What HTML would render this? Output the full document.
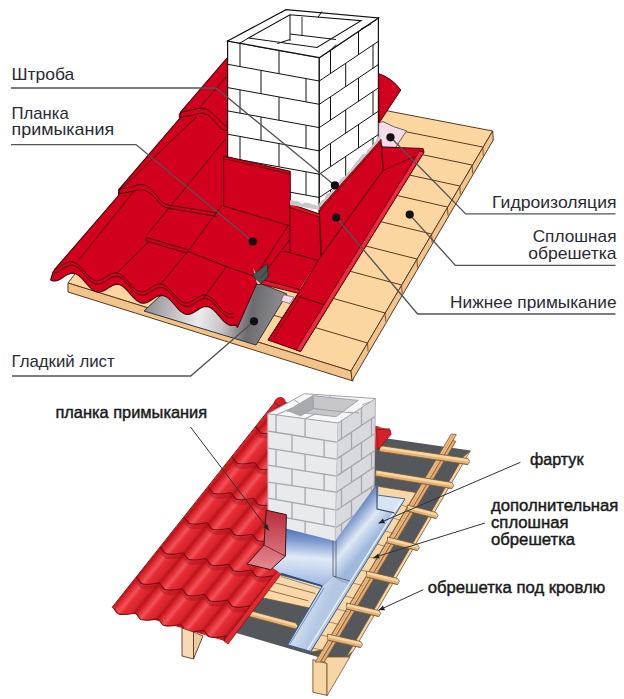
<!DOCTYPE html>
<html><head><meta charset="utf-8"><style>
html,body{margin:0;padding:0;background:#fff;}
svg{display:block;font-family:"Liberation Sans",sans-serif;}
</style></head><body>
<svg width="624" height="699" viewBox="0 0 624 699">
<rect width="624" height="699" fill="#fff"/>
<defs><linearGradient id="gs" gradientUnits="userSpaceOnUse" x1="144" y1="300" x2="290" y2="330"><stop offset="0" stop-color="#8a8a8e"/><stop offset="0.38" stop-color="#ececec"/><stop offset="0.55" stop-color="#c4c4c6"/><stop offset="0.72" stop-color="#6c6c70"/><stop offset="1" stop-color="#9c9ca0"/></linearGradient><linearGradient id="bl" x1="0" y1="0" x2="1" y2="1"><stop offset="0" stop-color="#7f9ac4"/><stop offset="0.5" stop-color="#dfe8f4"/><stop offset="1" stop-color="#a9bedc"/></linearGradient><linearGradient id="tr" x1="0" y1="0" x2="0" y2="1"><stop offset="0" stop-color="#e8242c"/><stop offset="0.6" stop-color="#d41a22"/><stop offset="1" stop-color="#b01018"/></linearGradient><clipPath id="roofclip"><polygon id="rc" points="227.0,58.0 180.5,112.3 180.0,118.0 119.5,188.8 118.5,195.6 57.0,266.7 53.0,272.0 50.6,280.2 53.1,281.0 55.6,280.9 58.1,280.2 60.6,278.9 63.1,277.3 65.6,275.6 68.1,274.3 70.6,273.4 73.1,273.2 75.6,273.7 78.1,275.1 80.6,277.2 83.1,279.8 85.6,282.6 88.1,285.5 90.6,288.1 93.1,290.2 95.6,291.6 98.1,292.2 100.6,292.0 103.1,291.1 105.6,289.7 108.1,288.1 110.6,286.5 113.1,285.2 115.6,284.4 118.1,284.3 120.6,285.1 123.1,286.6 125.6,288.8 128.1,291.4 130.6,294.3 133.1,297.2 135.6,299.7 138.1,301.6 140.6,302.9 143.1,303.3 145.6,303.0 148.1,302.0 150.6,300.5 153.1,298.9 155.6,297.3 158.1,296.1 160.6,295.4 163.1,295.5 165.6,296.4 168.1,298.1 170.6,300.4 173.1,303.1 175.6,306.0 178.1,308.8 180.6,311.3 183.1,313.1 185.6,314.1 188.1,314.4 190.6,313.9 193.1,312.8 195.6,311.3 198.1,309.7 200.6,308.1 203.1,307.0 205.6,306.5 208.1,306.8 210.6,307.8 213.1,309.6 215.6,312.0 218.1,314.8 220.6,317.7 223.1,320.5 225.6,322.8 228.1,324.5 230.6,325.4 233.1,325.5 235.6,324.9 237.5,327.5 257.0,283.0 253.0,268.0 261.0,282.0 298.0,292.0 321.4,255.6 321.0,200.0 227.5,200.0"/></clipPath></defs>
<polygon points="68.0,283.0 351.0,371.0 492.7,131.0 388.0,111.0 300.0,95.0 200.0,110.0" fill="#fcd6a0" stroke="#5a3a20" stroke-width="1" />
<polygon points="68.0,283.0 351.0,371.0 353.0,381.0 68.0,292.0" fill="#f0c48c" stroke="#5a3a20" stroke-width="1" />
<polygon points="351.0,371.0 492.7,131.0 493.3,140.0 352.0,381.0" fill="#f0c48c" stroke="#5a3a20" stroke-width="1" />
<line x1="262.7" y1="103.3" x2="482.7" y2="147.0" stroke="#5a3a20" stroke-width="1"/>
<line x1="482.7" y1="147.0" x2="483.3" y2="155.5" stroke="#5a3a20" stroke-width="0.8"/>
<line x1="252.1" y1="119.4" x2="472.1" y2="165.0" stroke="#5a3a20" stroke-width="1"/>
<line x1="472.1" y1="165.0" x2="472.7" y2="173.5" stroke="#5a3a20" stroke-width="0.8"/>
<line x1="239.8" y1="138.1" x2="459.8" y2="186.0" stroke="#5a3a20" stroke-width="1"/>
<line x1="459.8" y1="186.0" x2="460.4" y2="194.5" stroke="#5a3a20" stroke-width="0.8"/>
<line x1="227.4" y1="156.8" x2="447.4" y2="207.0" stroke="#5a3a20" stroke-width="1"/>
<line x1="447.4" y1="207.0" x2="448.0" y2="215.5" stroke="#5a3a20" stroke-width="0.8"/>
<line x1="211.6" y1="180.8" x2="431.6" y2="234.0" stroke="#5a3a20" stroke-width="1"/>
<line x1="431.6" y1="234.0" x2="432.2" y2="242.5" stroke="#5a3a20" stroke-width="0.8"/>
<line x1="196.9" y1="203.1" x2="416.9" y2="259.0" stroke="#5a3a20" stroke-width="1"/>
<line x1="416.9" y1="259.0" x2="417.5" y2="267.5" stroke="#5a3a20" stroke-width="0.8"/>
<line x1="181.6" y1="226.2" x2="401.6" y2="285.0" stroke="#5a3a20" stroke-width="1"/>
<line x1="401.6" y1="285.0" x2="402.2" y2="293.5" stroke="#5a3a20" stroke-width="0.8"/>
<line x1="165.1" y1="251.2" x2="385.1" y2="313.0" stroke="#5a3a20" stroke-width="1"/>
<line x1="385.1" y1="313.0" x2="385.7" y2="321.5" stroke="#5a3a20" stroke-width="0.8"/>
<line x1="147.5" y1="277.9" x2="367.5" y2="343.0" stroke="#5a3a20" stroke-width="1"/>
<line x1="367.5" y1="343.0" x2="368.1" y2="351.5" stroke="#5a3a20" stroke-width="0.8"/>
<polygon points="144.0,311.0 160.0,296.0 262.0,284.0 287.0,294.0 256.0,345.0" fill="url(#gs)" stroke="#333" stroke-width="1" />
<polygon points="283.5,294.8 294.0,297.0 290.0,303.5 281.0,301.0" fill="#f6dbe8" stroke="#444" stroke-width="0.6" />
<polygon points="227.0,58.0 180.5,112.3 180.0,118.0 119.5,188.8 118.5,195.6 57.0,266.7 53.0,272.0 50.6,280.2 53.1,281.0 55.6,280.9 58.1,280.2 60.6,278.9 63.1,277.3 65.6,275.6 68.1,274.3 70.6,273.4 73.1,273.2 75.6,273.7 78.1,275.1 80.6,277.2 83.1,279.8 85.6,282.6 88.1,285.5 90.6,288.1 93.1,290.2 95.6,291.6 98.1,292.2 100.6,292.0 103.1,291.1 105.6,289.7 108.1,288.1 110.6,286.5 113.1,285.2 115.6,284.4 118.1,284.3 120.6,285.1 123.1,286.6 125.6,288.8 128.1,291.4 130.6,294.3 133.1,297.2 135.6,299.7 138.1,301.6 140.6,302.9 143.1,303.3 145.6,303.0 148.1,302.0 150.6,300.5 153.1,298.9 155.6,297.3 158.1,296.1 160.6,295.4 163.1,295.5 165.6,296.4 168.1,298.1 170.6,300.4 173.1,303.1 175.6,306.0 178.1,308.8 180.6,311.3 183.1,313.1 185.6,314.1 188.1,314.4 190.6,313.9 193.1,312.8 195.6,311.3 198.1,309.7 200.6,308.1 203.1,307.0 205.6,306.5 208.1,306.8 210.6,307.8 213.1,309.6 215.6,312.0 218.1,314.8 220.6,317.7 223.1,320.5 225.6,322.8 228.1,324.5 230.6,325.4 233.1,325.5 235.6,324.9 237.5,327.5 257.0,283.0 253.0,268.0 261.0,282.0 298.0,292.0 321.4,255.6 321.0,200.0 227.5,200.0" fill="#d2001e" stroke="none" stroke-width="1" />
<polyline points="227.0,58.0 180.5,112.3 180.0,118.0 119.5,188.8 118.5,195.6 57.0,266.7 53.0,272.0 50.6,280.0" fill="none" stroke="#4a0008" stroke-width="1.1" />
<polyline points="50.6,280.2 53.1,281.0 55.6,280.9 58.1,280.2 60.6,278.9 63.1,277.3 65.6,275.6 68.1,274.3 70.6,273.4 73.1,273.2 75.6,273.7 78.1,275.1 80.6,277.2 83.1,279.8 85.6,282.6 88.1,285.5 90.6,288.1 93.1,290.2 95.6,291.6 98.1,292.2 100.6,292.0 103.1,291.1 105.6,289.7 108.1,288.1 110.6,286.5 113.1,285.2 115.6,284.4 118.1,284.3 120.6,285.1 123.1,286.6 125.6,288.8 128.1,291.4 130.6,294.3 133.1,297.2 135.6,299.7 138.1,301.6 140.6,302.9 143.1,303.3 145.6,303.0 148.1,302.0 150.6,300.5 153.1,298.9 155.6,297.3 158.1,296.1 160.6,295.4 163.1,295.5 165.6,296.4 168.1,298.1 170.6,300.4 173.1,303.1 175.6,306.0 178.1,308.8 180.6,311.3 183.1,313.1 185.6,314.1 188.1,314.4 190.6,313.9 193.1,312.8 195.6,311.3 198.1,309.7 200.6,308.1 203.1,307.0 205.6,306.5 208.1,306.8 210.6,307.8 213.1,309.6 215.6,312.0 218.1,314.8 220.6,317.7 223.1,320.5 225.6,322.8 228.1,324.5 230.6,325.4 233.1,325.5 235.6,324.9 237.5,327.5" fill="none" stroke="#4a0008" stroke-width="1.1" />
<polyline points="237.5,327.5 257.0,283.0" fill="none" stroke="#4a0008" stroke-width="1" />
<polyline points="54.1,269.4 56.6,268.7 59.1,267.4 61.6,265.8 64.1,264.1 66.6,262.8 69.1,261.9 71.6,261.7 74.1,262.2 76.6,263.6 79.1,265.7 81.6,268.3 84.1,271.1 86.6,274.0 89.1,276.6 91.6,278.7 94.1,280.1 96.6,280.7 99.1,280.5 101.6,279.6 104.1,278.2 106.6,276.6 109.1,275.0 111.6,273.7 114.1,272.9 116.6,272.8 119.1,273.6 121.6,275.1 124.1,277.3 126.6,279.9 129.1,282.8 131.6,285.7 134.1,288.2 136.6,290.1 139.1,291.4 141.6,291.8 144.1,291.5 146.6,290.5 149.1,289.0 151.6,287.4 154.1,285.8 156.6,284.6 159.1,283.9 161.6,284.0 164.1,284.9 166.6,286.6 169.1,288.9 171.6,291.6 174.1,294.5 176.6,297.3 179.1,299.8 181.6,301.6 184.1,302.6 186.6,302.9 189.1,302.4 191.6,301.3 194.1,299.8 196.6,298.2 199.1,296.6 201.6,295.5 204.1,295.0 206.6,295.3 209.1,296.3 211.6,298.1 214.1,300.5 216.6,303.3 219.1,306.2 221.6,309.0 224.1,311.3 226.6,313.0 229.1,313.9 231.6,314.0 234.1,313.4" fill="none" stroke="#4a0008" stroke-width="1" />
<polyline points="54.6,272.9 57.1,272.2 59.6,270.9 62.1,269.3 64.6,267.6 67.1,266.3 69.6,265.4 72.1,265.2 74.6,265.7 77.1,267.1 79.6,269.2 82.1,271.8 84.6,274.6 87.1,277.5 89.6,280.1 92.1,282.2 94.6,283.6 97.1,284.2 99.6,284.0 102.1,283.1 104.6,281.7 107.1,280.1 109.6,278.5 112.1,277.2 114.6,276.4 117.1,276.3 119.6,277.1 122.1,278.6 124.6,280.8 127.1,283.4 129.6,286.3 132.1,289.2 134.6,291.7 137.1,293.6 139.6,294.9 142.1,295.3 144.6,295.0 147.1,294.0 149.6,292.5 152.1,290.9 154.6,289.3 157.1,288.1 159.6,287.4 162.1,287.5 164.6,288.4 167.1,290.1 169.6,292.4 172.1,295.1 174.6,298.0 177.1,300.8 179.6,303.3 182.1,305.1 184.6,306.1 187.1,306.4 189.6,305.9 192.1,304.8 194.6,303.3 197.1,301.7 199.6,300.1 202.1,299.0 204.6,298.5 207.1,298.8 209.6,299.8 212.1,301.6 214.6,304.0 217.1,306.8 219.6,309.7 222.1,312.5 224.6,314.8 227.1,316.5 229.6,317.4 232.1,317.5 234.6,316.9" fill="none" stroke="#4a0008" stroke-width="1" />
<polyline points="179.3,113.6 184.0,111.5 190.9,110.2 196.3,108.8 201.8,108.1 207.2,109.5 212.7,113.6 218.1,119.0 223.6,124.5 228.0,126.5" fill="none" stroke="#4a0008" stroke-width="1" />
<polyline points="179.3,117.7 185.4,116.3 193.0,115.2 201.8,112.9 207.5,114.5 214.0,120.4 220.8,128.6 228.0,131.0" fill="none" stroke="#4a0008" stroke-width="1" />
<polyline points="118.7,189.0 128.8,187.9 138.5,184.5 145.2,185.0 150.0,187.9 154.8,192.7 158.7,198.5 163.0,203.0 168.0,205.0 174.0,206.0 200.0,210.0 217.0,213.0" fill="none" stroke="#4a0008" stroke-width="1" />
<polyline points="118.7,193.7 128.8,192.2 136.5,190.3 143.3,189.8 148.0,191.7 153.8,196.5 158.7,202.3 163.0,206.5 169.6,208.5 200.0,213.5 217.0,216.5" fill="none" stroke="#4a0008" stroke-width="1" />
<line x1="179.3" y1="113.6" x2="179.3" y2="117.7" stroke="#4a0008" stroke-width="1"/>
<line x1="118.7" y1="189.0" x2="118.7" y2="193.7" stroke="#4a0008" stroke-width="1"/>
<line x1="226.3" y1="76.8" x2="198.4" y2="108.8" stroke="#4a0008" stroke-width="1"/>
<line x1="197.0" y1="116.3" x2="119.0" y2="191.0" stroke="#4a0008" stroke-width="1"/>
<line x1="225.4" y1="139.2" x2="146.5" y2="235.4" stroke="#4a0008" stroke-width="1"/>
<line x1="149.7" y1="240.6" x2="116.0" y2="274.0" stroke="#4a0008" stroke-width="1"/>
<line x1="134.0" y1="191.2" x2="78.0" y2="261.0" stroke="#4a0008" stroke-width="1"/>
<line x1="222.0" y1="205.1" x2="187.4" y2="252.0" stroke="#4a0008" stroke-width="1"/>
<line x1="187.4" y1="252.0" x2="160.0" y2="285.0" stroke="#4a0008" stroke-width="1"/>
<line x1="226.5" y1="266.7" x2="203.5" y2="298.0" stroke="#4a0008" stroke-width="1"/>
<polyline points="146.3,237.5 186.9,249.5" fill="none" stroke="#4a0008" stroke-width="1" />
<polyline points="146.3,241.0 186.9,253.0" fill="none" stroke="#4a0008" stroke-width="1" />
<line x1="146.3" y1="237.5" x2="146.3" y2="241.0" stroke="#4a0008" stroke-width="1"/>
<polyline points="186.9,251.0 226.5,266.7 256.7,277.0" fill="none" stroke="#4a0008" stroke-width="1" />
<polygon points="227.6,41.0 319.3,57.7 319.3,215.0 227.6,200.0" fill="#fff" stroke="#111" stroke-width="1.2" />
<polygon points="319.3,57.7 378.4,18.0 378.4,150.0 319.3,215.0" fill="#fff" stroke="#111" stroke-width="1.2" />
<polygon points="227.6,41.0 286.0,9.7 378.4,18.0 319.3,57.7" fill="#fff" stroke="#111" stroke-width="1.2" />
<polygon points="248.5,38.0 290.0,14.8 361.0,20.6 317.0,47.5" fill="#fff" stroke="#111" stroke-width="1.1" />
<polyline points="277.2,43.6 290.0,39.5" fill="none" stroke="#111" stroke-width="1" />
<polyline points="290.0,34.0 336.0,39.5" fill="none" stroke="#111" stroke-width="1" />
<line x1="290.0" y1="14.8" x2="290.0" y2="41.0" stroke="#111" stroke-width="1"/>
<line x1="302.0" y1="17.0" x2="302.0" y2="35.5" stroke="#111" stroke-width="0.9"/>
<line x1="239.1" y1="43.5" x2="248.5" y2="38.0" stroke="#111" stroke-width="1"/>
<line x1="278.8" y1="50.5" x2="276.3" y2="41.9" stroke="#111" stroke-width="0"/>
<line x1="276.3" y1="41.9" x2="283.0" y2="45.5" stroke="#111" stroke-width="0"/>
<line x1="270.0" y1="28.8" x2="262.0" y2="24.0" stroke="#111" stroke-width="0"/>
<line x1="322.0" y1="11.4" x2="318.0" y2="17.2" stroke="#111" stroke-width="1"/>
<line x1="329.3" y1="51.5" x2="336.0" y2="44.5" stroke="#111" stroke-width="1"/>
<line x1="361.0" y1="29.0" x2="371.0" y2="24.0" stroke="#111" stroke-width="1"/>
<clipPath id="chimclip"><polygon points="227.6,41 319.3,57.7 378.4,18 378.4,150 319.3,215 227.6,200"/></clipPath>
<g clip-path="url(#chimclip)">
<line x1="227.6" y1="64.3" x2="319.3" y2="81.0" stroke="#111" stroke-width="1"/>
<line x1="227.6" y1="87.6" x2="319.3" y2="104.3" stroke="#111" stroke-width="1"/>
<line x1="227.6" y1="110.9" x2="319.3" y2="127.6" stroke="#111" stroke-width="1"/>
<line x1="227.6" y1="134.2" x2="319.3" y2="150.9" stroke="#111" stroke-width="1"/>
<line x1="227.6" y1="157.5" x2="319.3" y2="174.2" stroke="#111" stroke-width="1"/>
<line x1="227.6" y1="180.8" x2="319.3" y2="197.5" stroke="#111" stroke-width="1"/>
<line x1="227.6" y1="204.1" x2="319.3" y2="220.8" stroke="#111" stroke-width="1"/>
<line x1="240.0" y1="43.3" x2="240.0" y2="66.6" stroke="#111" stroke-width="1"/>
<line x1="279.0" y1="50.4" x2="279.0" y2="73.7" stroke="#111" stroke-width="1"/>
<line x1="261.0" y1="70.4" x2="261.0" y2="93.7" stroke="#111" stroke-width="1"/>
<line x1="306.0" y1="78.6" x2="306.0" y2="101.9" stroke="#111" stroke-width="1"/>
<line x1="240.0" y1="89.9" x2="240.0" y2="113.2" stroke="#111" stroke-width="1"/>
<line x1="279.0" y1="97.0" x2="279.0" y2="120.3" stroke="#111" stroke-width="1"/>
<line x1="261.0" y1="117.0" x2="261.0" y2="140.3" stroke="#111" stroke-width="1"/>
<line x1="306.0" y1="125.2" x2="306.0" y2="148.5" stroke="#111" stroke-width="1"/>
<line x1="240.0" y1="136.5" x2="240.0" y2="159.8" stroke="#111" stroke-width="1"/>
<line x1="279.0" y1="143.6" x2="279.0" y2="166.9" stroke="#111" stroke-width="1"/>
<line x1="261.0" y1="163.6" x2="261.0" y2="186.9" stroke="#111" stroke-width="1"/>
<line x1="306.0" y1="171.8" x2="306.0" y2="195.1" stroke="#111" stroke-width="1"/>
<line x1="240.0" y1="183.1" x2="240.0" y2="206.4" stroke="#111" stroke-width="1"/>
<line x1="279.0" y1="190.2" x2="279.0" y2="213.5" stroke="#111" stroke-width="1"/>
<line x1="261.0" y1="210.2" x2="261.0" y2="233.5" stroke="#111" stroke-width="1"/>
<line x1="306.0" y1="218.4" x2="306.0" y2="241.7" stroke="#111" stroke-width="1"/>
<line x1="319.3" y1="81.0" x2="378.4" y2="41.3" stroke="#111" stroke-width="1"/>
<line x1="319.3" y1="104.3" x2="378.4" y2="64.6" stroke="#111" stroke-width="1"/>
<line x1="319.3" y1="127.6" x2="378.4" y2="87.9" stroke="#111" stroke-width="1"/>
<line x1="319.3" y1="150.9" x2="378.4" y2="111.2" stroke="#111" stroke-width="1"/>
<line x1="319.3" y1="174.2" x2="378.4" y2="134.5" stroke="#111" stroke-width="1"/>
<line x1="319.3" y1="197.5" x2="378.4" y2="157.8" stroke="#111" stroke-width="1"/>
<line x1="330.5" y1="50.2" x2="330.5" y2="73.5" stroke="#111" stroke-width="1"/>
<line x1="358.5" y1="31.4" x2="358.5" y2="54.7" stroke="#111" stroke-width="1"/>
<line x1="345.7" y1="63.3" x2="345.7" y2="86.6" stroke="#111" stroke-width="1"/>
<line x1="373.0" y1="44.9" x2="373.0" y2="68.2" stroke="#111" stroke-width="1"/>
<line x1="330.5" y1="96.8" x2="330.5" y2="120.1" stroke="#111" stroke-width="1"/>
<line x1="358.5" y1="78.0" x2="358.5" y2="101.3" stroke="#111" stroke-width="1"/>
<line x1="345.7" y1="109.9" x2="345.7" y2="133.2" stroke="#111" stroke-width="1"/>
<line x1="373.0" y1="91.5" x2="373.0" y2="114.8" stroke="#111" stroke-width="1"/>
<line x1="330.5" y1="143.4" x2="330.5" y2="166.7" stroke="#111" stroke-width="1"/>
<line x1="358.5" y1="124.6" x2="358.5" y2="147.9" stroke="#111" stroke-width="1"/>
<line x1="345.7" y1="156.5" x2="345.7" y2="179.8" stroke="#111" stroke-width="1"/>
<line x1="373.0" y1="138.1" x2="373.0" y2="161.4" stroke="#111" stroke-width="1"/>
<line x1="330.5" y1="190.0" x2="330.5" y2="213.3" stroke="#111" stroke-width="1"/>
<line x1="358.5" y1="171.2" x2="358.5" y2="194.5" stroke="#111" stroke-width="1"/>
</g>
<path d="M378.6,73.6 Q392,78 400.8,90 L379,123 Z" fill="#d2001e" stroke="#4a0008" stroke-width="1"/>
<path d="M378.6,123 L383,121.5 Q392,127 406.5,130.8 L395.8,147.3 L383,147.3 L378.6,140 Z" fill="#f6dbe8" stroke="#444" stroke-width="0.8"/>
<polygon points="223.6,155.9 290.3,171.3 290.3,226.0 223.6,206.0" fill="#d2001e" stroke="#4a0008" stroke-width="1" />
<polyline points="223.6,158.5 290.3,174.0" fill="none" stroke="#4a0008" stroke-width="0.8" />
<polygon points="290.0,204.0 319.2,214.0 321.2,261.2 290.0,252.8" fill="#d2001e" stroke="#4a0008" stroke-width="1" />
<polygon points="290.0,204.0 319.2,214.0 319.3,217.0 290.0,207.5" fill="#e8102a" stroke="#4a0008" stroke-width="0.8" />
<line x1="284.0" y1="251.2" x2="290.0" y2="252.8" stroke="#4a0008" stroke-width="1"/>
<polyline points="288.5,225.0 260.5,268.0" fill="none" stroke="#4a0008" stroke-width="1" />
<polyline points="289.5,240.0 266.0,271.0" fill="none" stroke="#4a0008" stroke-width="1" />
<polygon points="319.2,208.5 380.9,139.0 383.1,170.4 321.4,255.6" fill="#d2001e" stroke="#4a0008" stroke-width="1" />
<polyline points="319.2,211.5 380.9,142.0" fill="none" stroke="#4a0008" stroke-width="0.8" />
<polygon points="321.4,255.6 383.1,170.4 382.0,147.0 423.0,148.5 424.0,152.0 300.5,351.5 268.0,340.0 297.9,293.8" fill="#d2001e" stroke="#4a0008" stroke-width="1" />
<polyline points="383.1,170.4 418.0,155.0" fill="none" stroke="#4a0008" stroke-width="0.8" />
<polyline points="297.9,293.8 272.0,334.0 268.0,340.0" fill="none" stroke="#4a0008" stroke-width="0.8" />
<polyline points="302.0,294.0 273.0,339.0" fill="none" stroke="#4a0008" stroke-width="0.8" />
<polyline points="298.5,296.5 323.7,304.5" fill="none" stroke="#4a0008" stroke-width="1" />
<polygon points="419.5,151.0 424.0,152.0 300.5,351.5 296.0,350.0" fill="#ee2a40" stroke="#4a0008" stroke-width="0.8" />
<polyline points="261.3,281.3 298.8,291.0" fill="none" stroke="#4a0008" stroke-width="1" />
<polygon points="261.3,279.5 299.5,289.5 298.8,293.5 261.0,284.0" fill="#e0182e" stroke="#4a0008" stroke-width="0.9" />
<polygon points="267.2,263.5 268.3,276.5 261.0,283.5 252.5,275.5" fill="#4a5654" stroke="#1e2626" stroke-width="0.8" />
<line x1="260.5" y1="278.0" x2="267.5" y2="270.0" stroke="#2a3432" stroke-width="0.7"/>
<polygon points="319.5,208.0 380.5,139.5 380.6,134.1 377.7,137.8 375.4,141.2 373.1,144.2 371.1,146.7 367.2,150.2 365.9,153.4 362.6,154.0 360.0,157.2 358.0,159.7 355.4,162.7 353.1,166.6 349.7,170.7 347.9,172.0 345.2,176.3 342.4,177.3 340.0,179.8 337.5,184.6 335.3,186.6 333.0,189.5 329.3,193.0 326.3,194.2 324.8,199.1 321.8,200.5 319.1,203.5" fill="#c8c8c8" stroke="none" stroke-width="1" />
<polygon points="290.0,205.0 319.5,210.0 319.5,205.1 317.0,206.3 314.6,204.6 312.1,204.5 309.7,203.3 307.2,202.7 304.8,202.5 302.3,203.9 299.8,202.2 297.4,201.0 294.9,200.9 292.5,200.3 290.0,200.5" fill="#c8c8c8" stroke="none" stroke-width="1" />
<text x="11.5" y="80" font-size="17" text-anchor="start" font-weight="normal" fill="#2a2a36"  textLength="62.8" lengthAdjust="spacingAndGlyphs">Штроба</text>
<polyline points="11.0,88.0 216.0,88.0 334.9,185.4" fill="none" stroke="#545454" stroke-width="1.35" />
<circle cx="334.9" cy="185.4" r="4.1" fill="#111"/>
<text x="11.5" y="119" font-size="17" text-anchor="start" font-weight="normal" fill="#2a2a36"  textLength="57.2" lengthAdjust="spacingAndGlyphs">Планка</text>
<text x="11.5" y="135" font-size="17" text-anchor="start" font-weight="normal" fill="#2a2a36"  textLength="102.6" lengthAdjust="spacingAndGlyphs">примыкания</text>
<polyline points="11.0,144.6 136.0,144.6 252.8,241.5" fill="none" stroke="#545454" stroke-width="1.35" />
<circle cx="252.8" cy="241.5" r="4.1" fill="#111"/>
<text x="11.5" y="367" font-size="17" text-anchor="start" font-weight="normal" fill="#2a2a36"  textLength="103.2" lengthAdjust="spacingAndGlyphs">Гладкий лист</text>
<polyline points="12.0,376.0 190.7,376.0 254.0,321.3" fill="none" stroke="#545454" stroke-width="1.35" />
<circle cx="254" cy="321.3" r="4.1" fill="#111"/>
<text x="616.5" y="208" font-size="17" text-anchor="end" font-weight="normal" fill="#2a2a36"  textLength="124.4" lengthAdjust="spacingAndGlyphs">Гидроизоляция</text>
<polyline points="615.5,213.9 465.7,213.9 390.5,137.3" fill="none" stroke="#545454" stroke-width="1.35" />
<circle cx="390.5" cy="137.3" r="4.1" fill="#111"/>
<text x="616.5" y="241.5" font-size="17" text-anchor="end" font-weight="normal" fill="#2a2a36"  textLength="83.8" lengthAdjust="spacingAndGlyphs">Сплошная</text>
<text x="616.5" y="259.4" font-size="17" text-anchor="end" font-weight="normal" fill="#2a2a36"  textLength="88.3" lengthAdjust="spacingAndGlyphs">обрешетка</text>
<polyline points="615.5,265.4 455.4,265.4 409.7,214.6" fill="none" stroke="#545454" stroke-width="1.35" />
<circle cx="409.7" cy="214.6" r="4.1" fill="#111"/>
<text x="616.5" y="307.5" font-size="17" text-anchor="end" font-weight="normal" fill="#2a2a36"  textLength="166.4" lengthAdjust="spacingAndGlyphs">Нижнее примыкание</text>
<polyline points="615.5,314.0 417.6,314.0 336.2,217.5" fill="none" stroke="#545454" stroke-width="1.35" />
<circle cx="336.2" cy="217.5" r="4.1" fill="#111"/>
<defs><linearGradient id="redb" x1="0" y1="0" x2="1" y2="0"><stop offset="0" stop-color="#c81820"/><stop offset="0.5" stop-color="#e8383e"/><stop offset="1" stop-color="#c81820"/></linearGradient><linearGradient id="bluef" gradientUnits="userSpaceOnUse" x1="270" y1="520" x2="380" y2="600"><stop offset="0" stop-color="#6d8fc4"/><stop offset="0.45" stop-color="#dce6f3"/><stop offset="0.75" stop-color="#aac0de"/><stop offset="1" stop-color="#7f9fd0"/></linearGradient><linearGradient id="bluef2" gradientUnits="userSpaceOnUse" x1="380" y1="490" x2="330" y2="560"><stop offset="0" stop-color="#d8e3f2"/><stop offset="0.5" stop-color="#a6bcdc"/><stop offset="1" stop-color="#c8d6ea"/></linearGradient><linearGradient id="plank" gradientUnits="userSpaceOnUse" x1="0" y1="510" x2="0" y2="570"><stop offset="0" stop-color="#b82c3a"/><stop offset="1" stop-color="#e68a94"/></linearGradient><clipPath id="tclip"><polygon points="277,399.5 391,430 224,641 112.2,607.3"/></clipPath></defs>
<polygon points="300.0,425.0 383.8,438.0 470.5,450.6 442.8,498.0 411.8,551.0 388.4,591.0 373.2,617.0 349.8,657.0 318.0,657.0 233.8,632.3 260.0,560.0" fill="#54575b" stroke="none" stroke-width="1" />
<polygon points="318.0,657.0 349.8,657.0 327.0,696.0 326.8,695.3 326.8,663.5" fill="#f6d6a4" stroke="#7a5530" stroke-width="0.8" />
<polygon points="470.3,451.0 464.4,461.0 458.6,471.0 452.7,481.0 446.9,491.0 441.0,501.0 435.2,511.0 429.3,521.0 423.5,531.0 417.6,541.0 411.8,551.0 405.9,561.0 400.1,571.0 394.2,581.0 388.4,591.0 382.6,601.0 376.7,611.0 370.9,621.0 365.0,631.0 359.2,641.0 353.3,651.0 346.3,657.0 352.2,647.0 358.0,637.0 363.8,627.0 369.7,617.0 375.5,607.0 381.4,597.0 387.2,587.0 393.1,577.0 398.9,567.0 404.8,557.0 410.6,547.0 416.5,537.0 422.3,527.0 428.2,517.0 434.0,507.0 439.9,497.0 445.7,487.0 451.6,477.0 457.4,467.0 463.3,457.0" fill="#f6d6a4" stroke="#7a5530" stroke-width="0.7" />
<polygon points="312.9,659.5 326.8,663.5 326.8,695.3 312.9,692.3" fill="#f6d6a4" stroke="#7a5530" stroke-width="0.9" />
<polygon points="452.7,440.0 455.8,441.5 324.2,662.0 320.2,662.0" fill="#e2a873" stroke="#7a5530" stroke-width="0.8" />
<polygon points="451.3,434.0 456.3,434.6 320.2,662.0 315.2,662.0" fill="#ecbb85" stroke="#7a5530" stroke-width="0.8" />
<line x1="453.8" y1="434.3" x2="317.7" y2="662.0" stroke="#d49a5a" stroke-width="0.7"/>
<polygon points="376.0,486.0 416.0,492.5 322.3,650.0 311.0,652.0 376.0,509.0" fill="#f8d8a8" stroke="#7a5530" stroke-width="0.8" />
<polygon points="277.0,574.0 322.3,586.2 309.5,608.0 258.8,597.0" fill="#f8d8a8" stroke="#7a5530" stroke-width="0.8" />
<line x1="271.0" y1="581.7" x2="315.3" y2="593.5" stroke="#7a5530" stroke-width="0.8"/>
<line x1="265.0" y1="589.4" x2="308.3" y2="600.8" stroke="#7a5530" stroke-width="0.8"/>
<line x1="401.3" y1="505.0" x2="408.9" y2="507.5" stroke="#7a5530" stroke-width="0.6"/>
<line x1="393.3" y1="518.0" x2="401.2" y2="520.5" stroke="#7a5530" stroke-width="0.6"/>
<line x1="385.2" y1="531.0" x2="393.4" y2="533.5" stroke="#7a5530" stroke-width="0.6"/>
<line x1="377.2" y1="544.0" x2="385.6" y2="546.5" stroke="#7a5530" stroke-width="0.6"/>
<line x1="369.2" y1="557.0" x2="377.9" y2="559.5" stroke="#7a5530" stroke-width="0.6"/>
<line x1="361.1" y1="570.0" x2="370.1" y2="572.5" stroke="#7a5530" stroke-width="0.6"/>
<line x1="353.1" y1="583.0" x2="362.3" y2="585.5" stroke="#7a5530" stroke-width="0.6"/>
<line x1="345.1" y1="596.0" x2="354.6" y2="598.5" stroke="#7a5530" stroke-width="0.6"/>
<line x1="337.0" y1="609.0" x2="346.8" y2="611.5" stroke="#7a5530" stroke-width="0.6"/>
<line x1="329.0" y1="622.0" x2="339.1" y2="624.5" stroke="#7a5530" stroke-width="0.6"/>
<line x1="321.0" y1="635.0" x2="331.3" y2="637.5" stroke="#7a5530" stroke-width="0.6"/>
<line x1="312.9" y1="648.0" x2="323.5" y2="650.5" stroke="#7a5530" stroke-width="0.6"/>
<polygon points="379.8,445.5 468.0,458.5 469.8,461.5 468.0,464.5 379.8,451.5" fill="#f7d6a2" stroke="#7a5530" stroke-width="0.8" />
<polygon points="379.8,448.8 468.0,461.8 468.0,464.5 379.8,451.5" fill="#e2b278" stroke="none" stroke-width="1" />
<line x1="379.8" y1="451.5" x2="468.0" y2="464.5" stroke="#7a5530" stroke-width="0.8"/>
<polygon points="375.8,470.0 452.0,482.5 453.8,485.5 452.0,488.5 375.8,476.0" fill="#f7d6a2" stroke="#7a5530" stroke-width="0.8" />
<polygon points="375.8,473.3 452.0,485.8 452.0,488.5 375.8,476.0" fill="#e2b278" stroke="none" stroke-width="1" />
<line x1="375.8" y1="476.0" x2="452.0" y2="488.5" stroke="#7a5530" stroke-width="0.8"/>
<polygon points="407.3,505.0 436.2,512.5 438.0,515.5 436.2,518.5 407.3,511.0" fill="#f7d6a2" stroke="#7a5530" stroke-width="0.8" />
<polygon points="407.3,508.3 436.2,515.8 436.2,518.5 407.3,511.0" fill="#e2b278" stroke="none" stroke-width="1" />
<line x1="407.3" y1="511.0" x2="436.2" y2="518.5" stroke="#7a5530" stroke-width="0.8"/>
<polygon points="387.5,537.0 417.5,544.5 419.3,547.5 417.5,550.5 387.5,543.0" fill="#f7d6a2" stroke="#7a5530" stroke-width="0.8" />
<polygon points="387.5,540.3 417.5,547.8 417.5,550.5 387.5,543.0" fill="#e2b278" stroke="none" stroke-width="1" />
<line x1="387.5" y1="543.0" x2="417.5" y2="550.5" stroke="#7a5530" stroke-width="0.8"/>
<polygon points="366.5,571.0 397.6,578.5 399.4,581.5 397.6,584.5 366.5,577.0" fill="#f7d6a2" stroke="#7a5530" stroke-width="0.8" />
<polygon points="366.5,574.3 397.6,581.8 397.6,584.5 366.5,577.0" fill="#e2b278" stroke="none" stroke-width="1" />
<line x1="366.5" y1="577.0" x2="397.6" y2="584.5" stroke="#7a5530" stroke-width="0.8"/>
<polygon points="346.7,603.0 378.9,610.5 380.7,613.5 378.9,616.5 346.7,609.0" fill="#f7d6a2" stroke="#7a5530" stroke-width="0.8" />
<polygon points="346.7,606.3 378.9,613.8 378.9,616.5 346.7,609.0" fill="#e2b278" stroke="none" stroke-width="1" />
<line x1="346.7" y1="609.0" x2="378.9" y2="616.5" stroke="#7a5530" stroke-width="0.8"/>
<polygon points="327.6,634.0 360.7,641.5 362.5,644.5 360.7,647.5 327.6,640.0" fill="#f7d6a2" stroke="#7a5530" stroke-width="0.8" />
<polygon points="327.6,637.3 360.7,644.8 360.7,647.5 327.6,640.0" fill="#e2b278" stroke="none" stroke-width="1" />
<line x1="327.6" y1="640.0" x2="360.7" y2="647.5" stroke="#7a5530" stroke-width="0.8"/>
<polygon points="240.0,608.0 296.0,623.0 297.8,626.0 296.0,629.0 240.0,614.0" fill="#f7d6a2" stroke="#7a5530" stroke-width="0.8" />
<polygon points="240.0,611.3 296.0,626.3 296.0,629.0 240.0,614.0" fill="#e2b278" stroke="none" stroke-width="1" />
<line x1="240.0" y1="614.0" x2="296.0" y2="629.0" stroke="#7a5530" stroke-width="0.8"/>
<defs><linearGradient id="tg" gradientUnits="userSpaceOnUse" spreadMethod="repeat" x1="112.2" y1="607.3" x2="128.55" y2="620.80"><stop offset="0" stop-color="#b8161e"/><stop offset="0.12" stop-color="#dc2129"/><stop offset="0.38" stop-color="#f0525a"/><stop offset="0.55" stop-color="#e62c34"/><stop offset="0.85" stop-color="#d8242c"/><stop offset="1" stop-color="#b8161e"/></linearGradient></defs>
<g clip-path="url(#tclip)">
<polygon points="277.0,399.5 391.0,430.0 224.0,641.0 112.2,607.3" fill="url(#tg)" stroke="none" stroke-width="1" />
<path d="M136.0,577.2 C138.5,577.8 140.0,584.0 143.0,584.0 C149.0,585.3 153.7,583.9 158.7,582.9 C161.2,583.5 162.7,589.7 165.7,589.7 C171.7,591.0 176.4,589.7 181.4,588.7 C183.9,589.3 185.4,595.5 188.4,595.5 C194.4,596.8 199.1,595.4 204.1,594.4 C206.6,595.0 208.1,601.2 211.1,601.2 C217.1,602.5 221.8,601.1 226.8,600.1 C229.3,600.7 230.8,606.9 233.8,606.9 C239.8,608.2 244.5,606.9 249.5,605.9 C252.0,606.5 253.5,612.7 256.5,612.7 C262.5,614.0 267.2,612.6 272.2,611.6 C274.7,612.2 276.2,618.4 279.2,618.4 C285.2,619.7 289.9,618.3 294.9,617.3 C297.4,617.9 298.9,624.1 301.9,624.1 C307.9,625.4 312.6,624.1 317.6,623.1 C320.1,623.7 321.6,629.9 324.6,629.9 C330.6,631.2 335.3,629.8 340.3,628.8 C342.8,629.4 344.3,635.6 347.3,635.6 C353.3,636.9 358.0,635.5 363.0,634.5" fill="none" stroke="#a01018" stroke-width="4" opacity="0.4" transform="translate(0.5,3)"/>
<path d="M136.0,577.2 C138.5,577.8 140.0,584.0 143.0,584.0 C149.0,585.3 153.7,583.9 158.7,582.9 C161.2,583.5 162.7,589.7 165.7,589.7 C171.7,591.0 176.4,589.7 181.4,588.7 C183.9,589.3 185.4,595.5 188.4,595.5 C194.4,596.8 199.1,595.4 204.1,594.4 C206.6,595.0 208.1,601.2 211.1,601.2 C217.1,602.5 221.8,601.1 226.8,600.1 C229.3,600.7 230.8,606.9 233.8,606.9 C239.8,608.2 244.5,606.9 249.5,605.9 C252.0,606.5 253.5,612.7 256.5,612.7 C262.5,614.0 267.2,612.6 272.2,611.6 C274.7,612.2 276.2,618.4 279.2,618.4 C285.2,619.7 289.9,618.3 294.9,617.3 C297.4,617.9 298.9,624.1 301.9,624.1 C307.9,625.4 312.6,624.1 317.6,623.1 C320.1,623.7 321.6,629.9 324.6,629.9 C330.6,631.2 335.3,629.8 340.3,628.8 C342.8,629.4 344.3,635.6 347.3,635.6 C353.3,636.9 358.0,635.5 363.0,634.5" fill="none" stroke="#7a0c12" stroke-width="1.1"/>
<path d="M159.9,547.1 C162.4,547.7 163.9,553.9 166.9,553.9 C172.9,555.2 177.6,553.8 182.6,552.8 C185.1,553.4 186.6,559.6 189.6,559.6 C195.6,560.9 200.3,559.5 205.3,558.5 C207.8,559.1 209.3,565.3 212.3,565.3 C218.3,566.6 222.9,565.3 227.9,564.3 C230.4,564.9 231.9,571.1 234.9,571.1 C240.9,572.4 245.6,571.0 250.6,570.0 C253.1,570.6 254.6,576.8 257.6,576.8 C263.6,578.1 268.3,576.7 273.3,575.7 C275.8,576.3 277.3,582.5 280.3,582.5 C286.3,583.8 291.0,582.5 296.0,581.5 C298.5,582.1 300.0,588.3 303.0,588.3 C309.0,589.6 313.7,588.2 318.7,587.2 C321.2,587.8 322.7,594.0 325.7,594.0 C331.7,595.3 336.4,593.9 341.4,592.9 C343.9,593.5 345.4,599.7 348.4,599.7 C354.4,601.0 359.1,599.7 364.1,598.7 C366.6,599.3 368.1,605.5 371.1,605.5 C377.1,606.8 381.8,605.4 386.8,604.4" fill="none" stroke="#a01018" stroke-width="4" opacity="0.4" transform="translate(0.5,3)"/>
<path d="M159.9,547.1 C162.4,547.7 163.9,553.9 166.9,553.9 C172.9,555.2 177.6,553.8 182.6,552.8 C185.1,553.4 186.6,559.6 189.6,559.6 C195.6,560.9 200.3,559.5 205.3,558.5 C207.8,559.1 209.3,565.3 212.3,565.3 C218.3,566.6 222.9,565.3 227.9,564.3 C230.4,564.9 231.9,571.1 234.9,571.1 C240.9,572.4 245.6,571.0 250.6,570.0 C253.1,570.6 254.6,576.8 257.6,576.8 C263.6,578.1 268.3,576.7 273.3,575.7 C275.8,576.3 277.3,582.5 280.3,582.5 C286.3,583.8 291.0,582.5 296.0,581.5 C298.5,582.1 300.0,588.3 303.0,588.3 C309.0,589.6 313.7,588.2 318.7,587.2 C321.2,587.8 322.7,594.0 325.7,594.0 C331.7,595.3 336.4,593.9 341.4,592.9 C343.9,593.5 345.4,599.7 348.4,599.7 C354.4,601.0 359.1,599.7 364.1,598.7 C366.6,599.3 368.1,605.5 371.1,605.5 C377.1,606.8 381.8,605.4 386.8,604.4" fill="none" stroke="#7a0c12" stroke-width="1.1"/>
<path d="M183.7,517.0 C186.2,517.6 187.7,523.8 190.7,523.8 C196.7,525.1 201.4,523.7 206.4,522.7 C208.9,523.3 210.4,529.5 213.4,529.5 C219.4,530.8 224.1,529.4 229.1,528.4 C231.6,529.0 233.1,535.2 236.1,535.2 C242.1,536.5 246.8,535.2 251.8,534.2 C254.3,534.8 255.8,541.0 258.8,541.0 C264.8,542.3 269.5,540.9 274.5,539.9 C277.0,540.5 278.5,546.7 281.5,546.7 C287.5,548.0 292.2,546.6 297.2,545.6 C299.7,546.2 301.2,552.4 304.2,552.4 C310.2,553.7 314.9,552.4 319.9,551.4 C322.4,552.0 323.9,558.2 326.9,558.2 C332.9,559.5 337.6,558.1 342.6,557.1 C345.1,557.7 346.6,563.9 349.6,563.9 C355.6,565.2 360.3,563.8 365.3,562.8 C367.8,563.4 369.3,569.6 372.3,569.6 C378.3,570.9 383.0,569.6 388.0,568.6 C390.5,569.2 392.0,575.4 395.0,575.4 C401.0,576.7 405.7,575.3 410.7,574.3" fill="none" stroke="#a01018" stroke-width="4" opacity="0.4" transform="translate(0.5,3)"/>
<path d="M183.7,517.0 C186.2,517.6 187.7,523.8 190.7,523.8 C196.7,525.1 201.4,523.7 206.4,522.7 C208.9,523.3 210.4,529.5 213.4,529.5 C219.4,530.8 224.1,529.4 229.1,528.4 C231.6,529.0 233.1,535.2 236.1,535.2 C242.1,536.5 246.8,535.2 251.8,534.2 C254.3,534.8 255.8,541.0 258.8,541.0 C264.8,542.3 269.5,540.9 274.5,539.9 C277.0,540.5 278.5,546.7 281.5,546.7 C287.5,548.0 292.2,546.6 297.2,545.6 C299.7,546.2 301.2,552.4 304.2,552.4 C310.2,553.7 314.9,552.4 319.9,551.4 C322.4,552.0 323.9,558.2 326.9,558.2 C332.9,559.5 337.6,558.1 342.6,557.1 C345.1,557.7 346.6,563.9 349.6,563.9 C355.6,565.2 360.3,563.8 365.3,562.8 C367.8,563.4 369.3,569.6 372.3,569.6 C378.3,570.9 383.0,569.6 388.0,568.6 C390.5,569.2 392.0,575.4 395.0,575.4 C401.0,576.7 405.7,575.3 410.7,574.3" fill="none" stroke="#7a0c12" stroke-width="1.1"/>
<path d="M207.5,486.8 C210.0,487.4 211.5,493.6 214.5,493.6 C220.5,494.9 225.2,493.6 230.2,492.6 C232.7,493.2 234.2,499.4 237.2,499.4 C243.2,500.7 247.9,499.3 252.9,498.3 C255.4,498.9 256.9,505.1 259.9,505.1 C265.9,506.4 270.6,505.0 275.6,504.0 C278.1,504.6 279.6,510.8 282.6,510.8 C288.6,512.1 293.3,510.8 298.3,509.8 C300.8,510.4 302.3,516.6 305.3,516.6 C311.3,517.9 316.0,516.5 321.0,515.5 C323.5,516.1 325.0,522.3 328.0,522.3 C334.0,523.6 338.7,522.2 343.7,521.2 C346.2,521.8 347.7,528.0 350.7,528.0 C356.7,529.3 361.4,528.0 366.4,527.0 C368.9,527.6 370.4,533.8 373.4,533.8 C379.4,535.1 384.1,533.7 389.1,532.7 C391.6,533.3 393.1,539.5 396.1,539.5 C402.1,540.8 406.8,539.4 411.8,538.4 C414.3,539.0 415.8,545.2 418.8,545.2 C424.8,546.5 429.5,545.2 434.5,544.2" fill="none" stroke="#a01018" stroke-width="4" opacity="0.4" transform="translate(0.5,3)"/>
<path d="M207.5,486.8 C210.0,487.4 211.5,493.6 214.5,493.6 C220.5,494.9 225.2,493.6 230.2,492.6 C232.7,493.2 234.2,499.4 237.2,499.4 C243.2,500.7 247.9,499.3 252.9,498.3 C255.4,498.9 256.9,505.1 259.9,505.1 C265.9,506.4 270.6,505.0 275.6,504.0 C278.1,504.6 279.6,510.8 282.6,510.8 C288.6,512.1 293.3,510.8 298.3,509.8 C300.8,510.4 302.3,516.6 305.3,516.6 C311.3,517.9 316.0,516.5 321.0,515.5 C323.5,516.1 325.0,522.3 328.0,522.3 C334.0,523.6 338.7,522.2 343.7,521.2 C346.2,521.8 347.7,528.0 350.7,528.0 C356.7,529.3 361.4,528.0 366.4,527.0 C368.9,527.6 370.4,533.8 373.4,533.8 C379.4,535.1 384.1,533.7 389.1,532.7 C391.6,533.3 393.1,539.5 396.1,539.5 C402.1,540.8 406.8,539.4 411.8,538.4 C414.3,539.0 415.8,545.2 418.8,545.2 C424.8,546.5 429.5,545.2 434.5,544.2" fill="none" stroke="#7a0c12" stroke-width="1.1"/>
<path d="M231.3,456.7 C233.8,457.3 235.3,463.5 238.3,463.5 C244.3,464.8 249.0,463.5 254.0,462.5 C256.5,463.1 258.0,469.3 261.0,469.3 C267.0,470.6 271.7,469.2 276.7,468.2 C279.2,468.8 280.7,475.0 283.7,475.0 C289.7,476.3 294.4,474.9 299.4,473.9 C301.9,474.5 303.4,480.7 306.4,480.7 C312.4,482.0 317.1,480.7 322.1,479.7 C324.6,480.3 326.1,486.5 329.1,486.5 C335.1,487.8 339.8,486.4 344.8,485.4 C347.3,486.0 348.8,492.2 351.8,492.2 C357.8,493.5 362.5,492.1 367.5,491.1 C370.0,491.7 371.5,497.9 374.5,497.9 C380.5,499.2 385.2,497.9 390.2,496.9 C392.7,497.5 394.2,503.7 397.2,503.7 C403.2,505.0 407.9,503.6 412.9,502.6 C415.4,503.2 416.9,509.4 419.9,509.4 C425.9,510.7 430.6,509.3 435.6,508.3 C438.1,508.9 439.6,515.1 442.6,515.1 C448.6,516.4 453.3,515.1 458.3,514.1" fill="none" stroke="#a01018" stroke-width="4" opacity="0.4" transform="translate(0.5,3)"/>
<path d="M231.3,456.7 C233.8,457.3 235.3,463.5 238.3,463.5 C244.3,464.8 249.0,463.5 254.0,462.5 C256.5,463.1 258.0,469.3 261.0,469.3 C267.0,470.6 271.7,469.2 276.7,468.2 C279.2,468.8 280.7,475.0 283.7,475.0 C289.7,476.3 294.4,474.9 299.4,473.9 C301.9,474.5 303.4,480.7 306.4,480.7 C312.4,482.0 317.1,480.7 322.1,479.7 C324.6,480.3 326.1,486.5 329.1,486.5 C335.1,487.8 339.8,486.4 344.8,485.4 C347.3,486.0 348.8,492.2 351.8,492.2 C357.8,493.5 362.5,492.1 367.5,491.1 C370.0,491.7 371.5,497.9 374.5,497.9 C380.5,499.2 385.2,497.9 390.2,496.9 C392.7,497.5 394.2,503.7 397.2,503.7 C403.2,505.0 407.9,503.6 412.9,502.6 C415.4,503.2 416.9,509.4 419.9,509.4 C425.9,510.7 430.6,509.3 435.6,508.3 C438.1,508.9 439.6,515.1 442.6,515.1 C448.6,516.4 453.3,515.1 458.3,514.1" fill="none" stroke="#7a0c12" stroke-width="1.1"/>
<path d="M255.2,426.6 C257.7,427.2 259.2,433.4 262.2,433.4 C268.2,434.7 272.9,433.4 277.9,432.4 C280.4,433.0 281.9,439.2 284.9,439.2 C290.9,440.5 295.6,439.1 300.6,438.1 C303.1,438.7 304.6,444.9 307.6,444.9 C313.6,446.2 318.3,444.8 323.3,443.8 C325.8,444.4 327.3,450.6 330.3,450.6 C336.3,451.9 341.0,450.6 346.0,449.6 C348.5,450.2 350.0,456.4 353.0,456.4 C359.0,457.7 363.7,456.3 368.7,455.3 C371.2,455.9 372.7,462.1 375.7,462.1 C381.7,463.4 386.4,462.0 391.4,461.0 C393.9,461.6 395.4,467.8 398.4,467.8 C404.4,469.1 409.0,467.8 414.0,466.8 C416.5,467.4 418.0,473.6 421.0,473.6 C427.0,474.9 431.7,473.5 436.7,472.5 C439.2,473.1 440.7,479.3 443.7,479.3 C449.7,480.6 454.4,479.2 459.4,478.2 C461.9,478.8 463.4,485.0 466.4,485.0 C472.4,486.3 477.1,485.0 482.1,484.0" fill="none" stroke="#a01018" stroke-width="4" opacity="0.4" transform="translate(0.5,3)"/>
<path d="M255.2,426.6 C257.7,427.2 259.2,433.4 262.2,433.4 C268.2,434.7 272.9,433.4 277.9,432.4 C280.4,433.0 281.9,439.2 284.9,439.2 C290.9,440.5 295.6,439.1 300.6,438.1 C303.1,438.7 304.6,444.9 307.6,444.9 C313.6,446.2 318.3,444.8 323.3,443.8 C325.8,444.4 327.3,450.6 330.3,450.6 C336.3,451.9 341.0,450.6 346.0,449.6 C348.5,450.2 350.0,456.4 353.0,456.4 C359.0,457.7 363.7,456.3 368.7,455.3 C371.2,455.9 372.7,462.1 375.7,462.1 C381.7,463.4 386.4,462.0 391.4,461.0 C393.9,461.6 395.4,467.8 398.4,467.8 C404.4,469.1 409.0,467.8 414.0,466.8 C416.5,467.4 418.0,473.6 421.0,473.6 C427.0,474.9 431.7,473.5 436.7,472.5 C439.2,473.1 440.7,479.3 443.7,479.3 C449.7,480.6 454.4,479.2 459.4,478.2 C461.9,478.8 463.4,485.0 466.4,485.0 C472.4,486.3 477.1,485.0 482.1,484.0" fill="none" stroke="#7a0c12" stroke-width="1.1"/>
<path d="M279.0,396.5 C281.5,397.1 283.0,403.3 286.0,403.3 C292.0,404.6 296.7,403.2 301.7,402.2 C304.2,402.8 305.7,409.0 308.7,409.0 C314.7,410.3 319.4,409.0 324.4,408.0 C326.9,408.6 328.4,414.8 331.4,414.8 C337.4,416.1 342.1,414.7 347.1,413.7 C349.6,414.3 351.1,420.5 354.1,420.5 C360.1,421.8 364.8,420.4 369.8,419.4 C372.3,420.0 373.8,426.2 376.8,426.2 C382.8,427.5 387.5,426.2 392.5,425.2 C395.0,425.8 396.5,432.0 399.5,432.0 C405.5,433.3 410.2,431.9 415.2,430.9 C417.7,431.5 419.2,437.7 422.2,437.7 C428.2,439.0 432.9,437.6 437.9,436.6 C440.4,437.2 441.9,443.4 444.9,443.4 C450.9,444.7 455.6,443.4 460.6,442.4 C463.1,443.0 464.6,449.2 467.6,449.2 C473.6,450.5 478.3,449.1 483.3,448.1 C485.8,448.7 487.3,454.9 490.3,454.9 C496.3,456.2 501.0,454.8 506.0,453.8" fill="none" stroke="#a01018" stroke-width="4" opacity="0.4" transform="translate(0.5,3)"/>
<path d="M279.0,396.5 C281.5,397.1 283.0,403.3 286.0,403.3 C292.0,404.6 296.7,403.2 301.7,402.2 C304.2,402.8 305.7,409.0 308.7,409.0 C314.7,410.3 319.4,409.0 324.4,408.0 C326.9,408.6 328.4,414.8 331.4,414.8 C337.4,416.1 342.1,414.7 347.1,413.7 C349.6,414.3 351.1,420.5 354.1,420.5 C360.1,421.8 364.8,420.4 369.8,419.4 C372.3,420.0 373.8,426.2 376.8,426.2 C382.8,427.5 387.5,426.2 392.5,425.2 C395.0,425.8 396.5,432.0 399.5,432.0 C405.5,433.3 410.2,431.9 415.2,430.9 C417.7,431.5 419.2,437.7 422.2,437.7 C428.2,439.0 432.9,437.6 437.9,436.6 C440.4,437.2 441.9,443.4 444.9,443.4 C450.9,444.7 455.6,443.4 460.6,442.4 C463.1,443.0 464.6,449.2 467.6,449.2 C473.6,450.5 478.3,449.1 483.3,448.1 C485.8,448.7 487.3,454.9 490.3,454.9 C496.3,456.2 501.0,454.8 506.0,453.8" fill="none" stroke="#7a0c12" stroke-width="1.1"/>
</g>
<path d="M112.2,607.3 C114.7,607.9 116.2,614.1 119.2,614.1 C125.2,615.4 129.9,614.0 134.9,613.0 C137.4,613.6 138.9,619.8 141.9,619.8 C147.9,621.1 152.6,619.8 157.6,618.8 C160.1,619.4 161.6,625.6 164.6,625.6 C170.6,626.9 175.3,625.5 180.3,624.5 C182.8,625.1 184.3,631.3 187.3,631.3 C193.3,632.6 198.0,631.2 203.0,630.2 C205.5,630.8 207.0,637.0 210.0,637.0 C216.0,638.3 220.7,637.0 225.7,636.0 L224,641 L228,632 Z" fill="url(#tg)" stroke="none"/>
<path d="M112.2,607.3 C114.7,607.9 116.2,614.1 119.2,614.1 C125.2,615.4 129.9,614.0 134.9,613.0 C137.4,613.6 138.9,619.8 141.9,619.8 C147.9,621.1 152.6,619.8 157.6,618.8 C160.1,619.4 161.6,625.6 164.6,625.6 C170.6,626.9 175.3,625.5 180.3,624.5 C182.8,625.1 184.3,631.3 187.3,631.3 C193.3,632.6 198.0,631.2 203.0,630.2 C205.5,630.8 207.0,637.0 210.0,637.0 C216.0,638.3 220.7,637.0 225.7,636.0 L224,641" fill="none" stroke="#7a0c12" stroke-width="1.1"/>
<polyline points="277.0,399.5 112.2,607.3" fill="none" stroke="#8a1016" stroke-width="1" />
<path d="M274,403 Q276,397 281,397.5 Q285,398 285.5,403 L280,406 Z" fill="#d42028" stroke="#8a1016" stroke-width="0.7"/>
<polygon points="300.5,540.0 304.5,543.0 228.0,644.0 224.0,641.0" fill="#e02a30" stroke="#8a1016" stroke-width="0.8" />
<polygon points="182.0,628.0 193.5,632.0 193.5,659.0 182.0,656.0" fill="#f7d9b8" stroke="#5a3a20" stroke-width="0.9" />
<polygon points="193.5,632.0 203.0,636.0 193.5,659.0" fill="#eccaa0" stroke="#5a3a20" stroke-width="0.9" />
<defs><linearGradient id="bapr" gradientUnits="userSpaceOnUse" x1="300" y1="528" x2="296" y2="586"><stop offset="0" stop-color="#4a6cb0"/><stop offset="0.22" stop-color="#7f9cd2"/><stop offset="0.5" stop-color="#e0e9f6"/><stop offset="0.72" stop-color="#c4d4ee"/><stop offset="1" stop-color="#98b2dc"/></linearGradient><linearGradient id="bside" gradientUnits="userSpaceOnUse" x1="352" y1="512" x2="378" y2="534"><stop offset="0" stop-color="#5a7cbc"/><stop offset="0.55" stop-color="#dfe8f5"/><stop offset="1" stop-color="#9fb8de"/></linearGradient><linearGradient id="bstrip" gradientUnits="userSpaceOnUse" x1="296" y1="600" x2="322" y2="612"><stop offset="0" stop-color="#8fabd8"/><stop offset="0.5" stop-color="#cddcf0"/><stop offset="1" stop-color="#b4c8e6"/></linearGradient></defs>
<polygon points="268.0,523.0 333.0,538.0 333.0,576.0 322.3,586.2 281.0,573.7 262.0,560.0" fill="url(#bapr)" stroke="none" stroke-width="1" />
<polygon points="333.0,538.0 375.3,487.6 376.1,484.4 378.4,485.5 378.4,495.2 405.0,498.8 350.0,587.0 333.0,576.0" fill="url(#bside)" stroke="none" stroke-width="1" />
<polygon points="378.4,495.2 405.0,498.8 394.4,512.9 376.8,508.9" fill="#d6e4f4" stroke="none" stroke-width="1" />
<polygon points="350.0,587.0 310.8,651.5 287.7,644.8 322.3,586.2 333.0,576.0" fill="url(#bstrip)" stroke="none" stroke-width="1" />
<polyline points="405.0,499.0 310.8,651.5 287.7,644.8 322.3,586.2" fill="none" stroke="#3a5a8a" stroke-width="1" />
<polyline points="322.3,586.2 281.0,573.7" fill="none" stroke="#2e4c86" stroke-width="1.8" />
<polyline points="401.5,500.5 307.5,650.0" fill="none" stroke="#f0f5fb" stroke-width="1.4" />
<polyline points="290.0,644.0 324.0,588.0" fill="none" stroke="#5a7aaa" stroke-width="0.8" />
<polyline points="281.0,576.5 320.0,588.5" fill="none" stroke="#5a7aaa" stroke-width="0.8" />
<polyline points="378.4,495.2 405.0,498.8" fill="none" stroke="#3a5a8a" stroke-width="0.9" />
<polyline points="377.0,485.0 377.0,509.0 394.4,512.9" fill="none" stroke="#3a4a6a" stroke-width="1.1" />
<polyline points="333.0,539.0 333.0,576.0 336.0,577.0 336.0,540.0" fill="none" stroke="#556" stroke-width="0.8" />
<polyline points="334.0,576.5 350.0,581.0" fill="none" stroke="#556" stroke-width="0.8" />
<polygon points="267.8,413.8 338.0,423.0 335.0,541.0 268.0,524.0" fill="#e9eaed" stroke="none" stroke-width="1" />
<polygon points="338.0,423.0 375.5,398.5 374.0,488.0 335.0,541.0" fill="#d9dadf" stroke="none" stroke-width="1" />
<polygon points="267.8,413.8 304.3,393.7 375.5,398.5 338.0,423.0" fill="#f7f7f9" stroke="#a4a4aa" stroke-width="1" />
<polygon points="287.0,411.0 313.0,395.6 358.2,400.4 336.0,416.7" fill="#c6c6cb" stroke="#9c9ca4" stroke-width="0.9" />
<polygon points="287.0,411.0 313.0,395.6 313.5,408.5 300.0,416.0" fill="#a9a9b0" stroke="none" stroke-width="1" />
<polyline points="300.0,416.0 313.5,408.5 352.0,413.0" fill="none" stroke="#9a9aa2" stroke-width="0.9" />
<line x1="313.0" y1="395.6" x2="313.5" y2="408.5" stroke="#9a9aa2" stroke-width="0.9"/>
<clipPath id="cbclip"><polygon points="267.8,413.8 338,423 375.5,398.5 374,488 335,541 268,524"/></clipPath>
<g clip-path="url(#cbclip)">
<line x1="267.8" y1="431.0" x2="336.5" y2="442.1" stroke="#a6a6ae" stroke-width="1.3"/>
<line x1="267.8" y1="448.1" x2="336.5" y2="459.1" stroke="#a6a6ae" stroke-width="1.3"/>
<line x1="267.8" y1="465.1" x2="336.5" y2="476.1" stroke="#a6a6ae" stroke-width="1.3"/>
<line x1="267.8" y1="482.2" x2="336.5" y2="492.2" stroke="#a6a6ae" stroke-width="1.3"/>
<line x1="267.8" y1="498.2" x2="336.5" y2="510.2" stroke="#a6a6ae" stroke-width="1.3"/>
<line x1="267.8" y1="514.2" x2="336.5" y2="527.2" stroke="#a6a6ae" stroke-width="1.3"/>
<line x1="267.8" y1="530.2" x2="336.5" y2="543.3" stroke="#a6a6ae" stroke-width="1.3"/>
<line x1="276.0" y1="414.9" x2="276.0" y2="432.3" stroke="#a6a6ae" stroke-width="1.3"/>
<line x1="305.1" y1="418.8" x2="305.1" y2="437.0" stroke="#a6a6ae" stroke-width="1.3"/>
<line x1="292.0" y1="434.9" x2="292.0" y2="452.0" stroke="#a6a6ae" stroke-width="1.3"/>
<line x1="324.1" y1="440.1" x2="324.1" y2="457.1" stroke="#a6a6ae" stroke-width="1.3"/>
<line x1="276.0" y1="449.4" x2="276.0" y2="466.4" stroke="#a6a6ae" stroke-width="1.3"/>
<line x1="305.1" y1="454.1" x2="305.1" y2="471.1" stroke="#a6a6ae" stroke-width="1.3"/>
<line x1="292.0" y1="469.0" x2="292.0" y2="485.7" stroke="#a6a6ae" stroke-width="1.3"/>
<line x1="324.1" y1="474.1" x2="324.1" y2="490.4" stroke="#a6a6ae" stroke-width="1.3"/>
<line x1="276.0" y1="483.4" x2="276.0" y2="499.6" stroke="#a6a6ae" stroke-width="1.3"/>
<line x1="305.1" y1="487.6" x2="305.1" y2="504.7" stroke="#a6a6ae" stroke-width="1.3"/>
<line x1="292.0" y1="502.4" x2="292.0" y2="518.8" stroke="#a6a6ae" stroke-width="1.3"/>
<line x1="324.1" y1="508.0" x2="324.1" y2="524.9" stroke="#a6a6ae" stroke-width="1.3"/>
<line x1="276.0" y1="515.8" x2="276.0" y2="531.8" stroke="#a6a6ae" stroke-width="1.3"/>
<line x1="305.1" y1="521.3" x2="305.1" y2="537.3" stroke="#a6a6ae" stroke-width="1.3"/>
<line x1="292.0" y1="534.8" x2="292.0" y2="550.9" stroke="#a6a6ae" stroke-width="1.3"/>
<line x1="324.1" y1="540.9" x2="324.1" y2="557.5" stroke="#a6a6ae" stroke-width="1.3"/>
<line x1="336.5" y1="442.1" x2="375.0" y2="416.5" stroke="#a6a6ae" stroke-width="1.3"/>
<line x1="336.5" y1="459.1" x2="375.0" y2="433.5" stroke="#a6a6ae" stroke-width="1.3"/>
<line x1="336.5" y1="476.1" x2="375.0" y2="450.5" stroke="#a6a6ae" stroke-width="1.3"/>
<line x1="336.5" y1="492.2" x2="375.0" y2="466.6" stroke="#a6a6ae" stroke-width="1.3"/>
<line x1="336.5" y1="510.2" x2="375.0" y2="484.6" stroke="#a6a6ae" stroke-width="1.3"/>
<line x1="336.5" y1="527.2" x2="375.0" y2="501.6" stroke="#a6a6ae" stroke-width="1.3"/>
<line x1="336.5" y1="543.3" x2="375.0" y2="517.7" stroke="#a6a6ae" stroke-width="1.3"/>
<line x1="341.5" y1="419.7" x2="341.5" y2="438.8" stroke="#a6a6ae" stroke-width="1.3"/>
<line x1="361.5" y1="406.4" x2="361.5" y2="425.5" stroke="#a6a6ae" stroke-width="1.3"/>
<line x1="351.5" y1="432.1" x2="351.5" y2="449.1" stroke="#a6a6ae" stroke-width="1.3"/>
<line x1="371.5" y1="418.8" x2="371.5" y2="435.8" stroke="#a6a6ae" stroke-width="1.3"/>
<line x1="341.5" y1="455.8" x2="341.5" y2="472.8" stroke="#a6a6ae" stroke-width="1.3"/>
<line x1="361.5" y1="442.5" x2="361.5" y2="459.5" stroke="#a6a6ae" stroke-width="1.3"/>
<line x1="351.5" y1="466.1" x2="351.5" y2="482.2" stroke="#a6a6ae" stroke-width="1.3"/>
<line x1="371.5" y1="452.8" x2="371.5" y2="468.9" stroke="#a6a6ae" stroke-width="1.3"/>
<line x1="341.5" y1="488.9" x2="341.5" y2="506.9" stroke="#a6a6ae" stroke-width="1.3"/>
<line x1="361.5" y1="475.6" x2="361.5" y2="493.6" stroke="#a6a6ae" stroke-width="1.3"/>
<line x1="351.5" y1="500.2" x2="351.5" y2="517.2" stroke="#a6a6ae" stroke-width="1.3"/>
<line x1="371.5" y1="486.9" x2="371.5" y2="503.9" stroke="#a6a6ae" stroke-width="1.3"/>
<line x1="341.5" y1="523.9" x2="341.5" y2="540.0" stroke="#a6a6ae" stroke-width="1.3"/>
<line x1="361.5" y1="510.6" x2="361.5" y2="526.7" stroke="#a6a6ae" stroke-width="1.3"/>
<line x1="351.5" y1="533.3" x2="351.5" y2="550.0" stroke="#a6a6ae" stroke-width="1.3"/>
<line x1="371.5" y1="520.0" x2="371.5" y2="536.7" stroke="#a6a6ae" stroke-width="1.3"/>
</g>
<line x1="276.0" y1="414.9" x2="291.0" y2="408.5" stroke="#a6a6ae" stroke-width="1.1"/>
<line x1="305.1" y1="418.7" x2="316.0" y2="413.5" stroke="#a6a6ae" stroke-width="1.1"/>
<line x1="294.0" y1="399.5" x2="300.0" y2="404.0" stroke="#a6a6ae" stroke-width="1"/>
<line x1="330.0" y1="395.0" x2="330.0" y2="398.5" stroke="#a6a6ae" stroke-width="1"/>
<line x1="348.0" y1="412.0" x2="359.0" y2="413.0" stroke="#a6a6ae" stroke-width="1"/>
<line x1="362.0" y1="405.0" x2="370.0" y2="402.0" stroke="#a6a6ae" stroke-width="1"/>
<polyline points="267.8,413.8 268.0,524.0" fill="none" stroke="#b4b4ba" stroke-width="1" />
<polyline points="375.5,398.5 374.0,488.0" fill="none" stroke="#b4b4ba" stroke-width="1" />
<polyline points="338.0,423.0 335.0,541.0" fill="none" stroke="#c4c4ca" stroke-width="1" />
<polygon points="376.2,429.7 389.4,428.8 391.2,434.1 378.0,450.0" fill="#d42028" stroke="#8a1016" stroke-width="0.8" />
<polygon points="266.2,510.2 286.4,514.7 285.3,556.2 270.7,569.7 247.1,564.0 264.0,545.0" fill="url(#plank)" stroke="#3a1010" stroke-width="1" />
<polyline points="264.0,545.0 285.3,556.2" fill="none" stroke="#5a1a1a" stroke-width="0.8" />
<text x="55.4" y="418" font-size="16.4" text-anchor="start" fill="#1a1a1a" stroke="#1a1a1a" stroke-width="0.45">планка примыкания</text>
<text x="530" y="465" font-size="16.1" text-anchor="start" fill="#1a1a1a" stroke="#1a1a1a" stroke-width="0.45">фартук</text>
<text x="491" y="511" font-size="16.7" text-anchor="start" fill="#1a1a1a" stroke="#1a1a1a" stroke-width="0.45">дополнительная</text>
<text x="491" y="528" font-size="16.7" text-anchor="start" fill="#1a1a1a" stroke="#1a1a1a" stroke-width="0.45">сплошная</text>
<text x="491" y="545" font-size="16.7" text-anchor="start" fill="#1a1a1a" stroke="#1a1a1a" stroke-width="0.45">обрешетка</text>
<text x="427.7" y="593" font-size="16.7" text-anchor="start" fill="#1a1a1a" stroke="#1a1a1a" stroke-width="0.45">обрешетка под кровлю</text>
<line x1="190.5" y1="427.0" x2="269.0" y2="530.5" stroke="#333" stroke-width="1"/>
<polygon points="269.0,530.5 263.3,527.3 267.4,524.1" fill="#222" stroke="none" stroke-width="1" />
<line x1="520.4" y1="462.3" x2="378.5" y2="523.3" stroke="#333" stroke-width="1"/>
<polygon points="378.5,523.3 383.0,518.5 385.0,523.3" fill="#222" stroke="none" stroke-width="1" />
<line x1="485.0" y1="523.0" x2="373.3" y2="557.7" stroke="#333" stroke-width="1"/>
<polygon points="373.3,557.7 378.3,553.4 379.8,558.4" fill="#222" stroke="none" stroke-width="1" />
<line x1="423.3" y1="589.7" x2="378.5" y2="610.3" stroke="#333" stroke-width="1"/>
<polygon points="378.5,610.3 382.9,605.4 385.0,610.2" fill="#222" stroke="none" stroke-width="1" />
</svg>
</body></html>
